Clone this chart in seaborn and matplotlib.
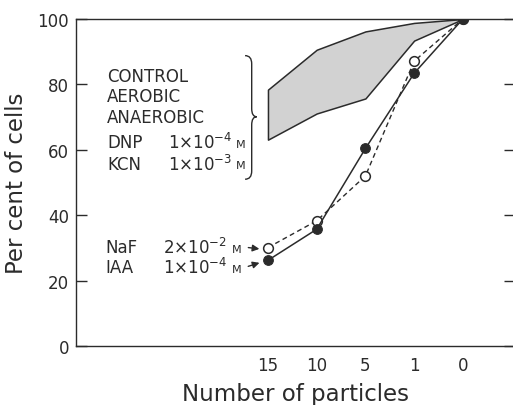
import matplotlib
matplotlib.use('Agg')
import matplotlib.pyplot as plt
from matplotlib.path import Path
from matplotlib.patches import PathPatch
import seaborn as sns
import pandas as pd

# data (x is categorical, evenly spaced)
particles = ['15', '10', '5', '1', '0']
band_upper = [78.4, 90.6, 96.2, 98.8, 100]
band_lower = [63.1, 71.1, 75.7, 93.4, 100]
iaa = [26.2, 35.7, 60.4, 83.4, 100]
naf = [30.1, 38.3, 52.0, 87.1, 100]

band_labels = ['CONTROL', 'AEROBIC', 'ANAEROBIC', 'DNP', 'KCN']
band_conc = ['', '', '', r'1$\times$10$^{-4}$', r'1$\times$10$^{-3}$']

df = pd.DataFrame({'pos': range(len(particles)), 'upper': band_upper,
                   'lower': band_lower, 'iaa': iaa, 'naf': naf})

sns.set_style('white')
plt.rcParams['font.family'] = ['DejaVu Sans']
ink = '#2b2b2b'

fig = plt.figure(figsize=(5.13, 4.06), dpi=100)
ax = fig.add_axes([76 / 513, 59 / 406, 439 / 513, 327 / 406])

# shaded band
ax.fill_between(df['pos'], df['lower'], df['upper'], facecolor='#d2d2d2',
                edgecolor=ink, linewidth=1.1, zorder=2)

# NaF (dashed, open) and IAA (solid, filled)
sns.lineplot(data=df, x='pos', y='naf', ax=ax, color=ink, linestyle=(0, (3.5, 2.5)),
             linewidth=1.0, marker='o', markersize=7, markerfacecolor='white',
             markeredgecolor=ink, markeredgewidth=1.1, zorder=3)
sns.lineplot(data=df, x='pos', y='iaa', ax=ax, color=ink, linewidth=1.1,
             marker='o', markersize=7, markerfacecolor=ink,
             markeredgecolor=ink, zorder=4)

ax.set_xlim(-3.94, 5.07)
ax.set_ylim(0, 100)
ax.set_xticks(df['pos'])
ax.set_xticklabels(particles)
ax.set_yticks([0, 20, 40, 60, 80, 100])
ax.tick_params(axis='both', direction='in', length=8, width=1.0, colors=ink,
               labelsize=12, pad=5)
ax.tick_params(axis='y', right=True, left=True)
ax.tick_params(axis='x', pad=7)
for s in ax.spines.values():
    s.set_color(ink)
    s.set_linewidth(1.0)

ax.set_xlabel('Number of particles', fontsize=16.5, color=ink, labelpad=6)
ax.set_ylabel('Per cent of cells', fontsize=16.5, color=ink, labelpad=7)

# band annotation
ys = [82.6, 76.5, 69.9, 62.3, 55.8]
for lab, conc, y in zip(band_labels, band_conc, ys):
    ax.text(-3.30, y, lab, fontsize=12, color=ink, va='center', ha='left')
    if conc:
        ax.text(-2.05, y, conc, fontsize=12, color=ink, va='center', ha='left')
        ax.text(-0.66, y - 0.6, 'M', fontsize=8, color=ink, va='center', ha='left')

# brace
x0, xh, xt = -0.334, -0.47, -0.23
yt, yb, ym = 88.8, 51.0, 70.1
verts = [(xh, yt), (x0, yt), (x0, yt - 2.5),
         (x0, ym + 2.5),
         (x0, ym), (xt, ym),
         (x0, ym), (x0, ym - 2.5),
         (x0, yb + 2.5),
         (x0, yb), (xh, yb)]
codes = [Path.MOVETO, Path.CURVE3, Path.CURVE3,
         Path.LINETO,
         Path.CURVE3, Path.CURVE3,
         Path.CURVE3, Path.CURVE3,
         Path.LINETO,
         Path.CURVE3, Path.CURVE3]
ax.add_patch(PathPatch(Path(verts, codes), facecolor='none', edgecolor=ink, lw=1.0))

# NaF / IAA labels with arrows
for name, conc, y, ytip in [('NaF', r'2$\times$10$^{-2}$', 30.2, 29.6),
                            ('IAA', r'1$\times$10$^{-4}$', 24.1, 25.7)]:
    ax.text(-3.34, y, name, fontsize=12, color=ink, va='center', ha='left')
    ax.text(-2.15, y, conc, fontsize=12, color=ink, va='center', ha='left')
    ax.text(-0.74, y - 0.6, 'M', fontsize=8, color=ink, va='center', ha='left')
    ax.annotate('', xy=(-0.12, ytip), xytext=(-0.46, y),
                arrowprops=dict(arrowstyle='-|>,head_length=0.4,head_width=0.2',
                                color=ink, lw=1.0))

plt.savefig('out.png', dpi=100)
